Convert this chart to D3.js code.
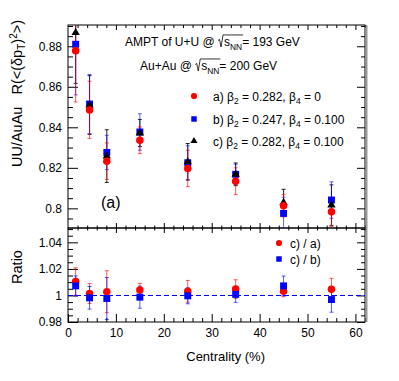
<!DOCTYPE html>
<html lang="en">
<head>
  <meta charset="UTF-8">
  <title>UU/AuAu ratio</title>
  <style>
    body { margin: 0; background: #fff; }
    svg { display: block; font-family: "Liberation Sans", Arial, sans-serif; }
    text { white-space: pre; }
  </style>
</head>
<body>
  <svg id="chart" width="399" height="381"></svg>
  <script src="https://d3js.org/d3.v7.min.js"></script>
  <script>
    // centrality bin centres (%)
    const cent = [1.6, 4.5, 8.1, 15, 25, 35, 45, 55];

    // top panel: UU/AuAu R(<(dpT)^2>)
    const valA = [0.8778, 0.8486, 0.8233, 0.8336, 0.8197, 0.8134, 0.8013, 0.7983];
    const errA = [0.0253, 0.0141, 0.0090, 0.0066, 0.0090, 0.0066, 0.0056, 0.0072];
    const valB = [0.8810, 0.8515, 0.8276, 0.8377, 0.8225, 0.8168, 0.7975, 0.8041];
    const errB = [0.0250, 0.0146, 0.0085, 0.0090, 0.0084, 0.0050, 0.0080, 0.0090];
    const valC = [0.8867, 0.8510, 0.8258, 0.8372, 0.8230, 0.8168, 0.8028, 0.8016];
    const errC = [0.0250, 0.0145, 0.0130, 0.0067, 0.0090, 0.0056, 0.0066, 0.0100];

    // bottom panel: ratios
    const ratCA = [1.0105, 1.0015, 1.0028, 1.0041, 1.0031, 1.0048, 1.0031, 1.0046];
    const errCA = [0.0103, 0.0075, 0.0158, 0.0050, 0.0082, 0.0070, 0.0040, 0.0083];
    const ratCB = [1.0072, 0.9982, 0.9977, 0.9987, 0.9997, 1.0008, 1.0072, 0.9969];
    const errCB = [0.0075, 0.0085, 0.0158, 0.0083, 0.0060, 0.0060, 0.0074, 0.0095];

    const xTicks = [0, 10, 20, 30, 40, 50, 60];
    const topTicks = [0.80, 0.82, 0.84, 0.86, 0.88];
    const topLabels = ["0.8", "0.82", "0.84", "0.86", "0.88"];
    const botTicks = [0.98, 1.00, 1.02, 1.04];
    const botLabels = ["0.98", "1", "1.02", "1.04"];

    const svg = d3.select("#chart");
    const L = 68, R = 365, T = 25, M = 228, B = 322;

    const x = d3.scaleLinear().domain([0, 62]).range([L, R]);
    const yTop = d3.scaleLinear().domain([0.7903, 0.8905]).range([M, T]);
    const yBot = d3.scaleLinear().domain([0.98, 1.0508]).range([B, M]);

    const xMinor = d3.range(0, 62.01, 2).filter(v => v % 10 !== 0);
    const topMinor = d3.range(0.795, 0.8905, 0.005).filter(v => Math.abs(v * 100 - Math.round(v * 50) * 2) > 0.01);
    const botMinor = d3.range(0.985, 1.0508, 0.005).filter(v => Math.abs(v * 100 - Math.round(v * 50) * 2) > 0.01);

    const defs = svg.append("defs");
    defs.append("clipPath").attr("id", "clipTop")
      .append("rect").attr("x", L).attr("y", T).attr("width", R - L).attr("height", M - T);
    defs.append("clipPath").attr("id", "clipBot")
      .append("rect").attr("x", L).attr("y", M).attr("width", R - L).attr("height", B - M);

    function ticks(g, axis) {
      g.call(axis);
      g.select(".domain").remove();
      g.selectAll("text").attr("font-size", 12).attr("font-family", "Liberation Sans, Arial, sans-serif").attr("fill", "#000");
      g.selectAll("line").attr("stroke", "#000");
    }

    // ---- top panel axes
    ticks(svg.append("g").attr("transform", `translate(${L},0)`),
      d3.axisLeft(yTop).tickValues(topTicks).tickSize(-10).tickPadding(6).tickFormat((d, i) => topLabels[i]));
    ticks(svg.append("g").attr("transform", `translate(${L},0)`),
      d3.axisLeft(yTop).tickValues(topMinor).tickSize(-5).tickFormat(""));
    ticks(svg.append("g").attr("transform", `translate(${R},0)`),
      d3.axisRight(yTop).tickValues(topTicks).tickSize(-8).tickFormat(""));
    ticks(svg.append("g").attr("transform", `translate(${R},0)`),
      d3.axisRight(yTop).tickValues(topMinor).tickSize(-4).tickFormat(""));
    ticks(svg.append("g").attr("transform", `translate(0,${T})`),
      d3.axisTop(x).tickValues(xTicks.filter(v => v > 0)).tickSize(-5).tickFormat(""));
    ticks(svg.append("g").attr("transform", `translate(0,${T})`),
      d3.axisTop(x).tickValues(xMinor).tickSize(-3).tickFormat(""));
    // shared middle axis, ticks on both sides
    ticks(svg.append("g").attr("transform", `translate(0,${M - 5})`),
      d3.axisBottom(x).tickValues(xTicks.filter(v => v > 0)).tickSize(10).tickFormat(""));
    ticks(svg.append("g").attr("transform", `translate(0,${M - 2.5})`),
      d3.axisBottom(x).tickValues(xMinor).tickSize(5).tickFormat(""));

    // ---- bottom panel axes
    ticks(svg.append("g").attr("transform", `translate(${L},0)`),
      d3.axisLeft(yBot).tickValues(botTicks).tickSize(-10).tickPadding(6).tickFormat((d, i) => botLabels[i]));
    ticks(svg.append("g").attr("transform", `translate(${L},0)`),
      d3.axisLeft(yBot).tickValues(botMinor).tickSize(-5).tickFormat(""));
    ticks(svg.append("g").attr("transform", `translate(${R},0)`),
      d3.axisRight(yBot).tickValues(botTicks).tickSize(-8).tickFormat(""));
    ticks(svg.append("g").attr("transform", `translate(${R},0)`),
      d3.axisRight(yBot).tickValues(botMinor).tickSize(-4).tickFormat(""));
    ticks(svg.append("g").attr("transform", `translate(0,${B})`),
      d3.axisBottom(x).tickValues(xTicks).tickSize(-8).tickPadding(6).tickFormat(d => d));
    ticks(svg.append("g").attr("transform", `translate(0,${B})`),
      d3.axisBottom(x).tickValues(xMinor).tickSize(-4).tickFormat(""));

    // frames
    svg.append("rect").attr("x", L).attr("y", T).attr("width", R - L).attr("height", M - T)
      .attr("fill", "none").attr("stroke", "#000");
    svg.append("rect").attr("x", L).attr("y", M).attr("width", R - L).attr("height", B - M)
      .attr("fill", "none").attr("stroke", "#000");
    svg.append("line").attr("x1", R + 1.5).attr("x2", R + 1.5).attr("y1", T).attr("y2", B)
      .attr("stroke", "#999").attr("stroke-width", 2);

    // dashed line at 1
    const y1 = Math.round(yBot(1)) + 0.5;
    svg.append("line").attr("x1", L).attr("x2", R).attr("y1", y1).attr("y2", y1)
      .attr("stroke", "#0000ff").attr("stroke-dasharray", "5,3");

    // ---- data
    function errBars(g, y, vals, errs, color, op) {
      const d = cent.map((c, i) => ({ c, v: vals[i], e: errs[i] }));
      const eg = g.append("g").attr("stroke", color).attr("stroke-opacity", op);
      eg.selectAll(".ev").data(d).join("line")
        .attr("x1", p => x(p.c)).attr("x2", p => x(p.c))
        .attr("y1", p => y(p.v - p.e)).attr("y2", p => y(p.v + p.e));
      eg.selectAll(".cl").data(d).join("line").attr("class", "cl")
        .attr("x1", p => x(p.c) - 2).attr("x2", p => x(p.c) + 2)
        .attr("y1", p => y(p.v - p.e)).attr("y2", p => y(p.v - p.e));
      eg.selectAll(".cu").data(d).join("line").attr("class", "cu")
        .attr("x1", p => x(p.c) - 2).attr("x2", p => x(p.c) + 2)
        .attr("y1", p => y(p.v + p.e)).attr("y2", p => y(p.v + p.e));
    }
    const sym = {
      circle: d3.symbol(d3.symbolCircle, 44),
      square: d3.symbol(d3.symbolSquare, 48),
      triangle: d3.symbol(d3.symbolTriangle, 30)
    };
    function markers(g, y, vals, shape, color) {
      g.append("g").selectAll("path").data(cent.map((c, i) => ({ c, v: vals[i] }))).join("path")
        .attr("transform", p => `translate(${x(p.c)},${y(p.v)})`)
        .attr("d", sym[shape]).attr("fill", color);
    }

    const gTop = svg.append("g").attr("clip-path", "url(#clipTop)");
    errBars(gTop, yTop, valC, errC, "#000", 0.85);
    errBars(gTop, yTop, valB, errB, "#0000ff", 0.6);
    errBars(gTop, yTop, valA, errA, "#ff0000", 0.65);
    markers(gTop, yTop, valB, "square", "#0000ff");
    markers(gTop, yTop, valC, "triangle", "#000");
    markers(gTop, yTop, valA, "circle", "#ff0000");

    const gBot = svg.append("g").attr("clip-path", "url(#clipBot)");
    errBars(gBot, yBot, ratCA, errCA, "#ff0000", 0.65);
    errBars(gBot, yBot, ratCB, errCB, "#0000ff", 0.65);
    markers(gBot, yBot, ratCA, "circle", "#ff0000");
    markers(gBot, yBot, ratCB, "square", "#0000ff");

    // ---- texts
    function sqrtLine(x0, y0, pre, post, size) {
      const g = svg.append("g").attr("font-size", size);
      const t1 = g.append("text").attr("x", x0).attr("y", y0).text(pre);
      const rx = x0 + t1.node().getComputedTextLength();
      const rw = size * 0.42, top = y0 - size * 0.92;
      const t2 = g.append("text").attr("x", rx + rw + 1).attr("y", y0);
      t2.append("tspan").text("s");
      t2.append("tspan").attr("dy", size * 0.3).attr("font-size", size * 0.7).text("NN");
      const w2 = t2.node().getComputedTextLength();
      g.append("path")
        .attr("d", `M${rx},${y0 - size * 0.45} L${rx + rw * 0.3},${y0 - size * 0.55} L${rx + rw * 0.6},${y0 + 1} L${rx + rw},${top} L${rx + rw + w2 + 2},${top}`)
        .attr("fill", "none").attr("stroke", "#000").attr("stroke-width", 0.8);
      g.append("text").attr("x", rx + rw + 1 + w2).attr("y", y0).text(post);
    }
    sqrtLine(125, 46, "AMPT of U+U @ ", "= 193 GeV", 12);
    sqrtLine(140, 70, "Au+Au @ ", "= 200 GeV", 12);

    const legTop = [
      { shape: d3.symbolCircle, size: 30, color: "#ff0000", lab: "a)", b2: "0.282", b4: "0" },
      { shape: d3.symbolSquare, size: 30, color: "#0000ff", lab: "b)", b2: "0.247", b4: "0.100" },
      { shape: d3.symbolTriangle, size: 22, color: "#000", lab: "c)", b2: "0.282", b4: "0.100" }
    ];
    const legY = [96, 119, 141];
    legTop.forEach((d, i) => {
      svg.append("path").attr("transform", `translate(194,${legY[i]})`)
        .attr("d", d3.symbol(d.shape, d.size)())
        .attr("fill", d.color);
      const t = svg.append("text").attr("x", 213).attr("y", legY[i] + 4.5).attr("font-size", 12);
      t.append("tspan").text(`${d.lab} \u03b2`);
      t.append("tspan").attr("dy", 3).attr("font-size", 8.5).text("2");
      t.append("tspan").attr("dy", -3).text(` = ${d.b2}, \u03b2`);
      t.append("tspan").attr("dy", 3).attr("font-size", 8.5).text("4");
      t.append("tspan").attr("dy", -3).text(` = ${d.b4}`);
    });

    const legBot = [
      { shape: d3.symbolCircle, color: "#ff0000", lab: "c) / a)", y: 243 },
      { shape: d3.symbolSquare, color: "#0000ff", lab: "c) / b)", y: 259 }
    ];
    legBot.forEach(d => {
      svg.append("path").attr("transform", `translate(279,${d.y})`)
        .attr("d", d3.symbol(d.shape, 30)()).attr("fill", d.color);
      svg.append("text").attr("x", 290).attr("y", d.y + 4.5).attr("font-size", 12).text(d.lab);
    });

    svg.append("text").attr("x", 101).attr("y", 208).attr("font-size", 16).text("(a)");

    // axis titles
    const yt = svg.append("text").attr("transform", "translate(22,20) rotate(-90)")
      .attr("text-anchor", "end").attr("font-size", 14.5);
    yt.append("tspan").text("UU/AuAu   R(<(\u03b4p");
    yt.append("tspan").attr("dy", 3).attr("font-size", 10).text("T");
    yt.append("tspan").attr("dy", -3).text(")");
    yt.append("tspan").attr("dy", -5).attr("font-size", 10).text("2");
    yt.append("tspan").attr("dy", 5).text(">)");

    svg.append("text").attr("transform", `translate(22,${(M + B) / 2 - 8}) rotate(-90)`)
      .attr("text-anchor", "middle").attr("font-size", 14.5).text("Ratio");

    svg.append("text").attr("x", 265).attr("y", 361).attr("text-anchor", "end")
      .attr("font-size", 13).text("Centrality (%)");
  </script>
</body>
</html>
